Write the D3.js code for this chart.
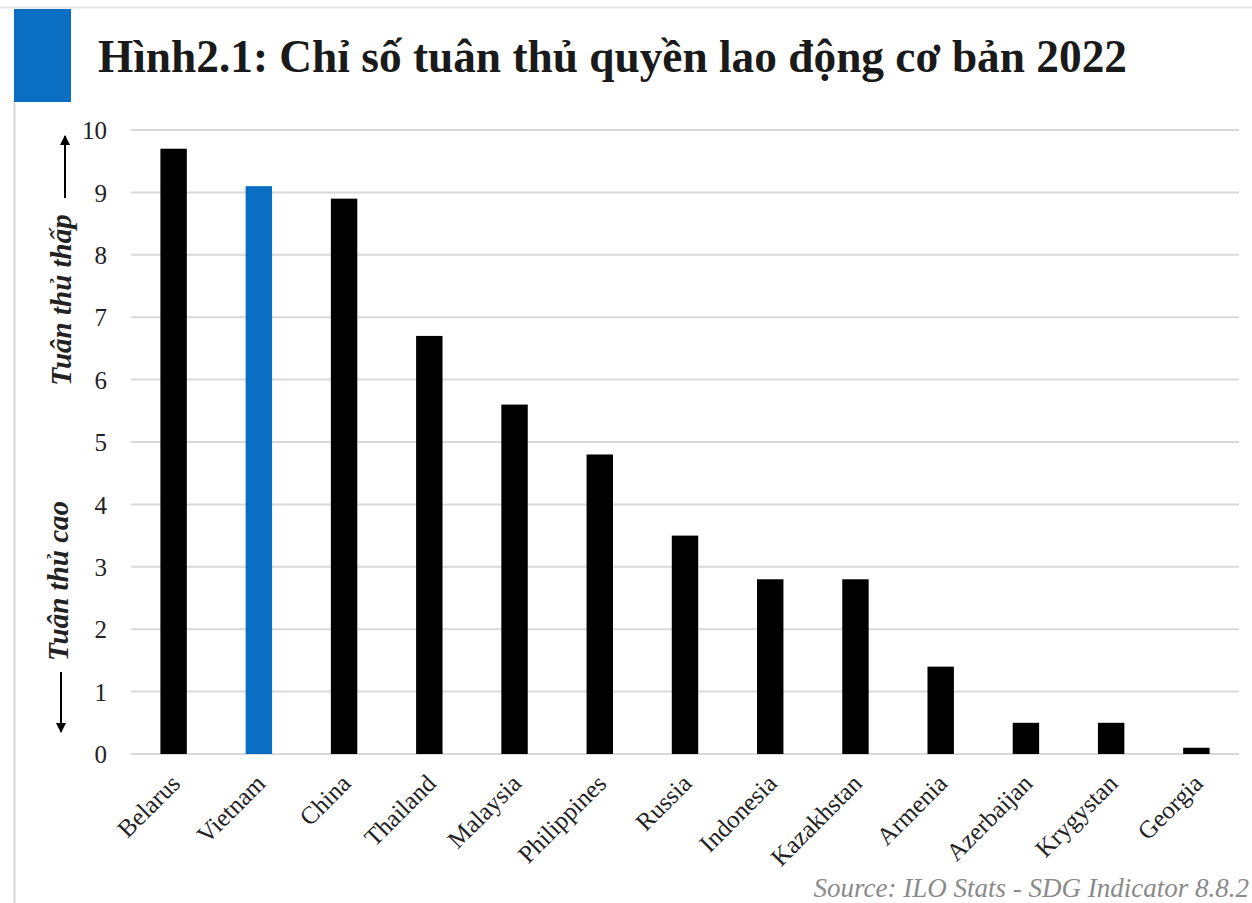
<!DOCTYPE html>
<html>
<head>
<meta charset="utf-8">
<script src="https://cdn.jsdelivr.net/npm/d3@7"></script>
<style>
    body { margin: 0; background: #fff; }
    svg text { font-family: "Liberation Serif", "Times New Roman", serif; }
</style>
</head>
<body>
<script>
var countries = ["Belarus", "Vietnam", "China", "Thailand", "Malaysia", "Philippines",
    "Russia", "Indonesia", "Kazakhstan", "Armenia", "Azerbaijan", "Krygystan", "Georgia"];
var scores = [9.7, 9.1, 8.9, 6.7, 5.6, 4.8, 3.5, 2.8, 2.8, 1.4, 0.5, 0.5, 0.1];
var yTicks = [0, 1, 2, 3, 4, 5, 6, 7, 8, 9, 10];
var highlight = "Vietnam";

var width = 1252,
    height = 903;

var svg = d3.select("body").append("svg")
    .attr("width", width)
    .attr("height", height);

// frame lines
svg.append("line")
    .attr("x1", 0).attr("x2", width)
    .attr("y1", 7.5).attr("y2", 7.5)
    .attr("stroke", "#e6e6e6").attr("stroke-width", 2);
svg.append("line")
    .attr("x1", 14.5).attr("x2", 14.5)
    .attr("y1", 100).attr("y2", height)
    .attr("stroke", "#d9d9d9").attr("stroke-width", 2);

svg.append("rect")
    .attr("x", 14).attr("y", 9)
    .attr("width", 57).attr("height", 93)
    .attr("fill", "#0a6fc2");

svg.append("text")
    .attr("x", 98).attr("y", 72)
    .attr("font-size", 47)
    .attr("font-weight", "bold")
    .attr("fill", "#1a1a1a")
    .attr("textLength", 1029)
    .attr("lengthAdjust", "spacingAndGlyphs")
    .text("Hình2.1:  Chỉ số tuân thủ quyền lao động cơ bản 2022");

var x = d3.scaleBand()
    .domain(countries)
    .range([131, 1239])
    .paddingInner(0.69)
    .paddingOuter(0.345);

var y = d3.scaleLinear()
    .domain([0, 10])
    .range([754, 130]);

// gridlines
svg.append("g")
    .selectAll("line")
    .data(yTicks)
    .enter().append("line")
    .attr("x1", 131).attr("x2", 1239)
    .attr("y1", function (d) { return y(d); })
    .attr("y2", function (d) { return y(d); })
    .attr("stroke", "#d9d9d9")
    .attr("stroke-width", 2);

var yAxis = d3.axisLeft(y)
    .tickValues(yTicks)
    .tickSize(0)
    .tickPadding(0);

var yAxisG = svg.append("g")
    .attr("transform", "translate(107,0)")
    .call(yAxis);
yAxisG.select(".domain").remove();
yAxisG.selectAll("text")
    .attr("font-size", 25)
    .attr("fill", "#222")
    .attr("dy", "0.35em");

svg.selectAll(".bar")
    .data(countries)
    .enter().append("rect")
    .attr("class", "bar")
    .attr("x", function (d) { return x(d); })
    .attr("width", x.bandwidth())
    .attr("y", function (d, i) { return y(scores[i]); })
    .attr("height", function (d, i) { return y(0) - y(scores[i]); })
    .attr("fill", function (d) { return d === highlight ? "#0a6fc2" : "#000"; });

var xAxis = d3.axisBottom(x).tickSize(0).tickPadding(0);
var xAxisG = svg.append("g")
    .attr("transform", "translate(0,754)")
    .call(xAxis);
xAxisG.select(".domain").remove();
xAxisG.selectAll("text")
    .attr("font-size", 25)
    .attr("fill", "#222")
    .attr("text-anchor", "end")
    .attr("dy", null)
    .attr("y", 0)
    .attr("transform", "translate(8,31) rotate(-45)");

// axis side notes
svg.append("defs").append("marker")
    .attr("id", "arrow")
    .attr("viewBox", "0 0 10 10")
    .attr("refX", 9).attr("refY", 5)
    .attr("markerWidth", 5).attr("markerHeight", 5)
    .attr("orient", "auto")
    .append("path")
    .attr("d", "M0,0L10,5L0,10z")
    .attr("fill", "#000");

svg.append("line")
    .attr("x1", 65).attr("x2", 65)
    .attr("y1", 198).attr("y2", 136)
    .attr("stroke", "#000").attr("stroke-width", 2)
    .attr("marker-end", "url(#arrow)");
svg.append("text")
    .attr("transform", "translate(71,300) rotate(-90)")
    .attr("text-anchor", "middle")
    .attr("font-size", 29)
    .attr("font-style", "italic")
    .attr("font-weight", "bold")
    .attr("fill", "#222")
    .text("Tuân thủ thấp");

svg.append("line")
    .attr("x1", 61).attr("x2", 61)
    .attr("y1", 672).attr("y2", 732)
    .attr("stroke", "#000").attr("stroke-width", 2)
    .attr("marker-end", "url(#arrow)");
svg.append("text")
    .attr("transform", "translate(68,581) rotate(-90)")
    .attr("text-anchor", "middle")
    .attr("font-size", 29)
    .attr("font-style", "italic")
    .attr("font-weight", "bold")
    .attr("fill", "#222")
    .text("Tuân thủ cao");

svg.append("text")
    .attr("x", 1249).attr("y", 897)
    .attr("text-anchor", "end")
    .attr("font-size", 27)
    .attr("font-style", "italic")
    .attr("fill", "#8a8a8a")
    .text("Source: ILO Stats - SDG Indicator 8.8.2");
</script>
</body>
</html>
